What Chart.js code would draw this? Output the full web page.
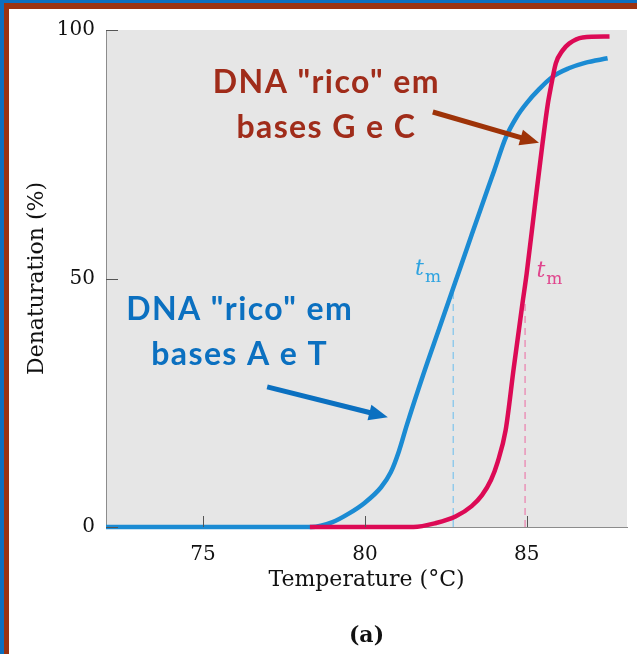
<!DOCTYPE html>
<html>
<head>
<meta charset="utf-8">
<script src="https://cdn.jsdelivr.net/npm/chart.js@4/dist/chart.umd.min.js"></script>
<style>
  html, body { margin: 0; padding: 0; background: #fff; }
  #wrap { position: relative; width: 637px; height: 654px; overflow: hidden; }
  #wrap canvas { position: absolute; left: 0; top: 0; }
  .edge { position: absolute; pointer-events: none; }
</style>
</head>
<body>
<div id="wrap">
  <canvas id="chart" width="637" height="654"></canvas>
  <div class="edge" style="left:0;top:0;width:637px;height:3px;background:#0b6fc0"></div>
  <div class="edge" style="left:0;top:0;width:4px;height:654px;background:#0b6fc0"></div>
  <div class="edge" style="left:4px;top:3px;width:633px;height:6px;background:#9b3311"></div>
  <div class="edge" style="left:4px;top:3px;width:5px;height:651px;background:#9b3311"></div>
</div>
<script>
// melting curves (temperature in °C, denaturation in %)
const atTemp = [72, 78.35, 79.0, 79.5, 80.0, 80.5, 80.8, 81.05, 81.3, 81.8, 82.3, 82.8, 83.3, 83.6, 84.0, 84.35, 84.7, 85.0, 85.4, 85.8, 86.3, 86.8, 87.5];
const atDenat = [0, 0, 1.0, 2.7, 4.9, 8.0, 11.0, 15.2, 20.6, 30.6, 40.0, 49.4, 58.8, 64.4, 71.8, 78.3, 82.6, 85.3, 88.2, 90.6, 92.3, 93.4, 94.3];

const gcTemp = [78.3, 81.5, 82.2, 82.8, 83.3, 83.62, 83.9, 84.1, 84.35, 84.6, 84.87, 85.0, 85.25, 85.49, 85.65, 85.75, 85.9, 86.1, 86.32, 86.73, 87.56];
const gcDenat = [0, 0, 0.8, 2.1, 4.2, 6.4, 9.5, 13.0, 19.5, 32.0, 45.0, 51.0, 64.5, 77.2, 85.0, 88.6, 93.3, 95.8, 97.3, 98.5, 98.7];

// melting temperatures and the height of their dashed markers
const tmAT = 82.73, tmATTop = 47.7;
const tmGC = 84.95, tmGCTop = 45.7;

const xTicks = [75, 80, 85];
const yTicks = [0, 50, 100];

const toPoints = (xs, ys) => xs.map((x, i) => ({ x: x, y: ys[i] }));

const BLUE = '#1b8bd3', RED = '#dc0a55';
const SERIF = '"DejaVu Serif", serif';
const SANS = 'Lato, "Open Sans", sans-serif';

// annotation texts and arrows, placed in data units
const notes = [
  { lines: ['DNA "rico" em', 'bases G e C'], x: 78.81, y: [89.3, 80.3], color: '#a02c1a' },
  { lines: ['DNA "rico" em', 'bases A e T'], x: 76.13, y: [43.7, 34.6], color: '#0b70c0' }
];
const arrows = [
  { from: [82.1, 83.5], to: [85.38, 77.3], color: '#9e3308' },
  { from: [76.98, 28.2], to: [80.71, 22.1], color: '#0b70c0' }
];
const tmLabels = [
  { x: 81.55, y: 50.7, color: '#2ea3e0' },
  { x: 85.3, y: 50.3, color: '#e0458d' }
];

function drawArrow(ctx, x1, y1, x2, y2, color) {
  const a = Math.atan2(y2 - y1, x2 - x1);
  const hl = 19, hw = 16;
  const bx = x2 - hl * Math.cos(a), by = y2 - hl * Math.sin(a);
  ctx.strokeStyle = color;
  ctx.lineWidth = 5;
  ctx.beginPath();
  ctx.moveTo(x1, y1);
  ctx.lineTo(bx + 2 * Math.cos(a), by + 2 * Math.sin(a));
  ctx.stroke();
  ctx.fillStyle = color;
  ctx.beginPath();
  ctx.moveTo(x2, y2);
  ctx.lineTo(bx + hw / 2 * Math.sin(a), by - hw / 2 * Math.cos(a));
  ctx.lineTo(bx - hw / 2 * Math.sin(a), by + hw / 2 * Math.cos(a));
  ctx.closePath();
  ctx.fill();
}

const decor = {
  id: 'decor',
  beforeDraw(chart) {
    const { ctx, chartArea: a } = chart;
    ctx.save();
    ctx.fillStyle = '#e6e6e6';
    ctx.fillRect(a.left, a.top, a.right - a.left, a.bottom - a.top);
    ctx.restore();
  },
  afterDatasetsDraw(chart) {
    const { ctx, chartArea: a, scales: { x, y } } = chart;
    ctx.save();
    // inward tick marks
    ctx.strokeStyle = '#555';
    ctx.lineWidth = 1;
    xTicks.forEach(v => {
      const px = Math.round(x.getPixelForValue(v)) + 0.5;
      ctx.beginPath(); ctx.moveTo(px, a.bottom); ctx.lineTo(px, a.bottom - 11); ctx.stroke();
    });
    yTicks.forEach(v => {
      const py = Math.round(y.getPixelForValue(v)) + 0.5;
      ctx.beginPath(); ctx.moveTo(a.left, py); ctx.lineTo(a.left + 12, py); ctx.stroke();
    });

    // t_m labels
    tmLabels.forEach(l => {
      const px = x.getPixelForValue(l.x), py = y.getPixelForValue(l.y);
      ctx.fillStyle = l.color;
      ctx.textAlign = 'left';
      ctx.textBaseline = 'alphabetic';
      ctx.font = 'italic 22px ' + SERIF;
      ctx.fillText('t', px, py);
      const w = ctx.measureText('t').width;
      ctx.font = '17px ' + SERIF;
      ctx.fillText('m', px + w + 1, py + 7);
    });

    // arrows
    arrows.forEach(r => {
      drawArrow(ctx, x.getPixelForValue(r.from[0]), y.getPixelForValue(r.from[1]),
                x.getPixelForValue(r.to[0]), y.getPixelForValue(r.to[1]), r.color);
    });

    // callouts
    ctx.textAlign = 'center';
    ctx.textBaseline = 'middle';
    ctx.font = 'bold 32px ' + SANS;
    ctx.letterSpacing = '1.4px';
    notes.forEach(n => {
      ctx.fillStyle = n.color;
      n.lines.forEach((t, i) => ctx.fillText(t, x.getPixelForValue(n.x), y.getPixelForValue(n.y[i])));
    });
    ctx.letterSpacing = '0px';

    // panel label
    ctx.fillStyle = '#111';
    ctx.font = 'bold 22px ' + SERIF;
    ctx.fillText('(a)', (a.left + a.right) / 2, 636);
    ctx.restore();
  }
};

new Chart(document.getElementById('chart'), {
  type: 'line',
  data: {
    datasets: [
      { label: 'GC-rich', data: toPoints(gcTemp, gcDenat), borderColor: RED, borderWidth: 4.5,
        pointRadius: 0, cubicInterpolationMode: 'monotone', clip: false, borderCapStyle: 'butt' },
      { label: 'AT-rich', data: toPoints(atTemp, atDenat), borderColor: BLUE, borderWidth: 4.5,
        pointRadius: 0, cubicInterpolationMode: 'monotone', clip: false, borderCapStyle: 'butt' },
      { label: 'tm AT', data: [{ x: tmAT, y: 0 }, { x: tmAT, y: tmATTop }], borderColor: '#86c6ec',
        borderWidth: 1.3, borderDash: [7, 5], pointRadius: 0, order: 5 },
      { label: 'tm GC', data: [{ x: tmGC, y: 0 }, { x: tmGC, y: tmGCTop }], borderColor: '#ea86b2',
        borderWidth: 1.3, borderDash: [7, 5], pointRadius: 0, order: 5 }
    ]
  },
  options: {
    responsive: false,
    animation: false,
    layout: { padding: { left: 0, top: 30, right: 10, bottom: 0 } },
    plugins: { legend: { display: false }, tooltip: { enabled: false } },
    scales: {
      x: {
        type: 'linear', min: 72, max: 88.1,
        afterBuildTicks: s => { s.ticks = xTicks.map(v => ({ value: v })); },
        afterFit: s => { s.height = 127; },
        grid: { display: false, drawTicks: false },
        border: { display: true, color: '#8c8c8c', width: 1 },
        ticks: { color: '#111', padding: 16, maxRotation: 0, font: { family: SERIF, size: 20 } },
        title: { display: true, text: 'Temperature (°C)', color: '#111',
                 font: { family: SERIF, size: 22 }, padding: { top: 0, bottom: 61 } }
      },
      y: {
        min: 0, max: 100,
        afterBuildTicks: s => { s.ticks = yTicks.map(v => ({ value: v })); },
        afterFit: s => { s.width = 106; },
        grid: { display: false, drawTicks: false },
        border: { display: true, color: '#8c8c8c', width: 1 },
        ticks: { color: '#111', padding: 11, font: { family: SERIF, size: 20 } },
        title: { display: true, text: 'Denaturation (%)', color: '#111',
                 font: { family: SERIF, size: 22 }, padding: { top: 24, bottom: 0 } }
      }
    }
  },
  plugins: [decor]
});
</script>
</body>
</html>
